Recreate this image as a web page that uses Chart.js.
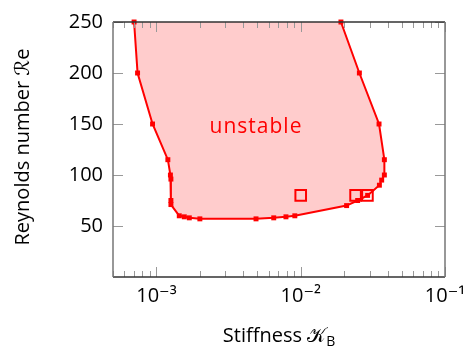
<!DOCTYPE html>
<html>
<head>
<meta charset="utf-8">
<script src="https://cdn.jsdelivr.net/npm/chart.js@4/dist/chart.umd.min.js"></script>
<style>
  html, body { margin: 0; padding: 0; background: #fff; }
  #wrap { width: 473px; height: 348px; }
</style>
</head>
<body>
<div id="wrap"><canvas id="c" width="473" height="348"></canvas></div>
<script>
// stability boundary, from the left branch down, along the bottom and up the right branch
const boundaryK  = [7.0e-4, 7.4e-4, 9.4e-4, 1.2e-3, 1.25e-3, 1.26e-3, 1.26e-3, 1.26e-3, 1.44e-3, 1.56e-3, 1.69e-3, 2.0e-3,
                    4.9e-3, 6.5e-3, 7.9e-3, 9.1e-3, 0.0208, 0.0248, 0.0291, 0.0351, 0.0364, 0.038, 0.038, 0.0349, 0.0255, 0.019];
const boundaryRe = [250, 200, 150, 115, 100, 96, 75, 71, 60, 59, 58, 57,
                    57, 58, 59, 60, 70, 75, 80, 90, 95, 100, 115, 150, 200, 250];
// open square markers
const markK  = [0.01, 0.024, 0.029];
const markRe = [80, 80, 80];
const xTicks = [1e-3, 1e-2, 1e-1];
const xTickLabels = ['10\u207B\u00B3', '10\u207B\u00B2', '10\u207B\u00B9'];
const yTicks = [50, 100, 150, 200, 250];

const RED = '#ff0000';
const FONT = '"Open Sans", "DejaVu Sans", sans-serif';

const pts = (xs, ys) => xs.map((x, i) => ({x: x, y: ys[i]}));

const extras = {
  id: 'extras',
  afterDraw(chart) {
    const ctx = chart.ctx, a = chart.chartArea;
    const xs = chart.scales.x, ys = chart.scales.y;
    ctx.save();
    // inward ticks
    ctx.strokeStyle = '#999';
    ctx.lineWidth = 1;
    ctx.beginPath();
    for (let e = -4; e <= -1; e++) {
      for (let m = 1; m <= 9; m++) {
        const v = m * Math.pow(10, e);
        if (v < xs.min || v > xs.max) continue;
        const px = Math.round(xs.getPixelForValue(v)) + 0.5;
        const len = m === 1 ? 10 : 6;
        ctx.moveTo(px, a.bottom); ctx.lineTo(px, a.bottom - len);
        ctx.moveTo(px, a.top); ctx.lineTo(px, a.top + len);
      }
    }
    yTicks.forEach(v => {
      const py = Math.round(ys.getPixelForValue(v)) + 0.5;
      ctx.moveTo(a.left, py); ctx.lineTo(a.left + 10, py);
      ctx.moveTo(a.right, py); ctx.lineTo(a.right - 10, py);
    });
    ctx.stroke();
    // frame
    ctx.lineWidth = 1.5;
    ctx.strokeStyle = '#333';
    ctx.beginPath();
    ctx.moveTo(a.left, a.top); ctx.lineTo(a.right, a.top);
    ctx.moveTo(a.left, a.bottom); ctx.lineTo(a.right, a.bottom);
    ctx.stroke();
    ctx.strokeStyle = '#777';
    ctx.beginPath();
    ctx.moveTo(a.left, a.top); ctx.lineTo(a.left, a.bottom);
    ctx.moveTo(a.right, a.top); ctx.lineTo(a.right, a.bottom);
    ctx.stroke();

    // region label
    ctx.fillStyle = RED;
    ctx.font = '21px ' + FONT;
    ctx.letterSpacing = '1px';
    ctx.textAlign = 'center';
    ctx.textBaseline = 'middle';
    ctx.fillText('unstable', xs.getPixelForValue(4.9e-3), ys.getPixelForValue(147));
    ctx.letterSpacing = '0px';

    // axis titles
    ctx.fillStyle = '#000';
    ctx.font = '20px ' + FONT;
    ctx.textBaseline = 'alphabetic';
    const t1 = 'Stiffness ', t2 = '\uD835\uDCA6', t3 = 'B';
    const w1 = ctx.measureText(t1).width, w2 = ctx.measureText(t2).width;
    ctx.font = '14px ' + FONT;
    const w3 = ctx.measureText(t3).width;
    let x0 = (a.left + a.right) / 2 - (w1 + w2 + w3) / 2;
    ctx.textAlign = 'left';
    ctx.font = '20px ' + FONT;
    ctx.fillText(t1, x0, 342);
    ctx.fillText(t2, x0 + w1, 342);
    ctx.font = '14px ' + FONT;
    ctx.fillText(t3, x0 + w1 + w2, 346);

    ctx.font = '20px ' + FONT;
    ctx.translate(23, 147);
    ctx.rotate(-Math.PI / 2);
    ctx.textAlign = 'center';
    ctx.textBaseline = 'middle';
    ctx.fillText('Reynolds number \u211Be', 0, 0);
    ctx.restore();
  }
};

new Chart(document.getElementById('c'), {
  type: 'scatter',
  data: {
    datasets: [
      {
        data: pts(boundaryK, boundaryRe),
        showLine: true,
        clip: false,
        borderColor: RED,
        borderWidth: 2,
        backgroundColor: RED,
        pointStyle: 'rect',
        pointRadius: 3.5,
        pointBorderWidth: 0,
        fill: false
      },
      {
        data: pts(markK, markRe),
        showLine: false,
        borderColor: RED,
        backgroundColor: 'rgba(0,0,0,0)',
        pointStyle: 'rect',
        pointRadius: 7.5,
        pointBorderWidth: 2
      },
      {
        data: pts(boundaryK, boundaryRe),
        showLine: true,
        borderWidth: 0,
        borderColor: 'rgba(0,0,0,0)',
        backgroundColor: '#ffcccc',
        pointRadius: 0,
        fill: 'shape'
      }
    ]
  },
  options: {
    responsive: false,
    animation: false,
    events: [],
    layout: { padding: { top: 18, right: 28, left: 0, bottom: 0 } },
    plugins: { legend: { display: false }, tooltip: { enabled: false } },
    scales: {
      x: {
        type: 'logarithmic',
        min: 5e-4,
        max: 0.1,
        border: { display: false },
        grid: { display: false, drawTicks: false },
        afterBuildTicks: s => { s.ticks = xTicks.map(v => ({value: v})); },
        afterFit: s => { s.height = 71; },
        ticks: {
          padding: 7,
          color: '#000',
          font: { family: FONT, size: 20 },
          maxRotation: 0,
          callback: (v) => xTickLabels[xTicks.indexOf(v)] || ''
        }
      },
      y: {
        min: 0,
        max: 250,
        border: { display: false },
        grid: { display: false, drawTicks: false },
        afterBuildTicks: s => { s.ticks = yTicks.map(v => ({value: v})); },
        afterFit: s => { s.width = 113; },
        ticks: {
          padding: 10,
          color: '#000',
          font: { family: FONT, size: 20 }
        }
      }
    }
  },
  plugins: [extras]
});
</script>
</body>
</html>
